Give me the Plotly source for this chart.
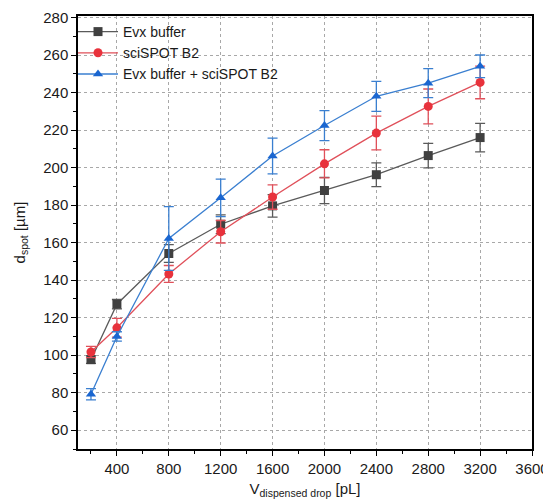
import plotly.graph_objects as go

volumes = [200, 400, 800, 1200, 1600, 2000, 2400, 2800, 3200]

evx = [97.6, 127.2, 154.2, 169.8, 179.6, 187.8, 196.2, 206.4, 216.0]
evx_err = [2.0, 2.5, 4.7, 5.0, 6.0, 7.0, 6.3, 6.5, 7.6]

sci = [101.7, 114.6, 143.3, 165.8, 184.3, 202.0, 218.4, 232.6, 245.4]
sci_err = [3.0, 5.0, 4.5, 6.0, 6.5, 7.5, 9.0, 9.3, 8.7]

mix = [79.2, 110.0, 162.2, 183.9, 206.2, 222.4, 238.0, 245.0, 254.0]
mix_err = [3.0, 2.5, 17.0, 10.0, 9.5, 8.0, 8.0, 7.7, 6.0]

series = [
    ("Evx buffer", evx, evx_err, "#404040", "#5a5a5a", "square"),
    ("sciSPOT B2", sci, sci_err, "#e8323c", "#e0505a", "circle"),
    ("Evx buffer + sciSPOT B2", mix, mix_err, "#1a66d0", "#3a7fd0", "triangle-up"),
]

fig = go.Figure()
for name, y, err, mcol, lcol, sym in series:
    fig.add_trace(go.Scatter(
        x=volumes, y=y, name=name, mode="lines+markers",
        line=dict(color=lcol, width=1.3),
        marker=dict(color=mcol, symbol=sym, size=9),
        error_y=dict(type="data", array=err, visible=True, color=lcol,
                     thickness=1.3, width=5),
    ))

axis_common = dict(
    showline=True, linecolor="black", linewidth=1.5, mirror=True,
    ticks="outside", ticklen=5, tickwidth=1.2, tickcolor="black",
    showgrid=True, gridcolor="#a8a8a8", griddash="dot", gridwidth=1,
    zeroline=False, automargin=False,
    tickfont=dict(family="Liberation Sans, Arial", size=15, color="#1a1a1a"),
)

# page body has an 8px default margin, so the figure is sized/offset to fit
fig.update_layout(
    width=543, height=495,
    margin=dict(l=70, r=19, t=8, b=54),
    paper_bgcolor="white", plot_bgcolor="white",
    font=dict(family="Liberation Sans, Arial", color="#1a1a1a"),
    showlegend=True,
    legend=dict(x=-0.011, y=1.0, xanchor="left", yanchor="top",
                bgcolor="rgba(0,0,0,0)", borderwidth=0,
                font=dict(size=14, color="#1a1a1a"),
                tracegroupgap=0, itemwidth=40),
    xaxis=dict(
        range=[100, 3600], tick0=0, dtick=400,
        minor=dict(dtick=200, tick0=0, ticks="outside", ticklen=3,
                   tickcolor="black", showgrid=False),
        title=dict(text="V<sub>dispensed drop</sub> [pL]",
                   font=dict(size=15), standoff=8),
        **axis_common,
    ),
    yaxis=dict(
        range=[50, 280.8], tick0=0, dtick=20,
        minor=dict(dtick=10, tick0=0, ticks="outside", ticklen=3,
                   tickcolor="black", showgrid=False),
        title=dict(text="d<sub>spot</sub> [µm]",
                   font=dict(size=15), standoff=14),
        **axis_common,
    ),
)

fig.write_html("out.html")
